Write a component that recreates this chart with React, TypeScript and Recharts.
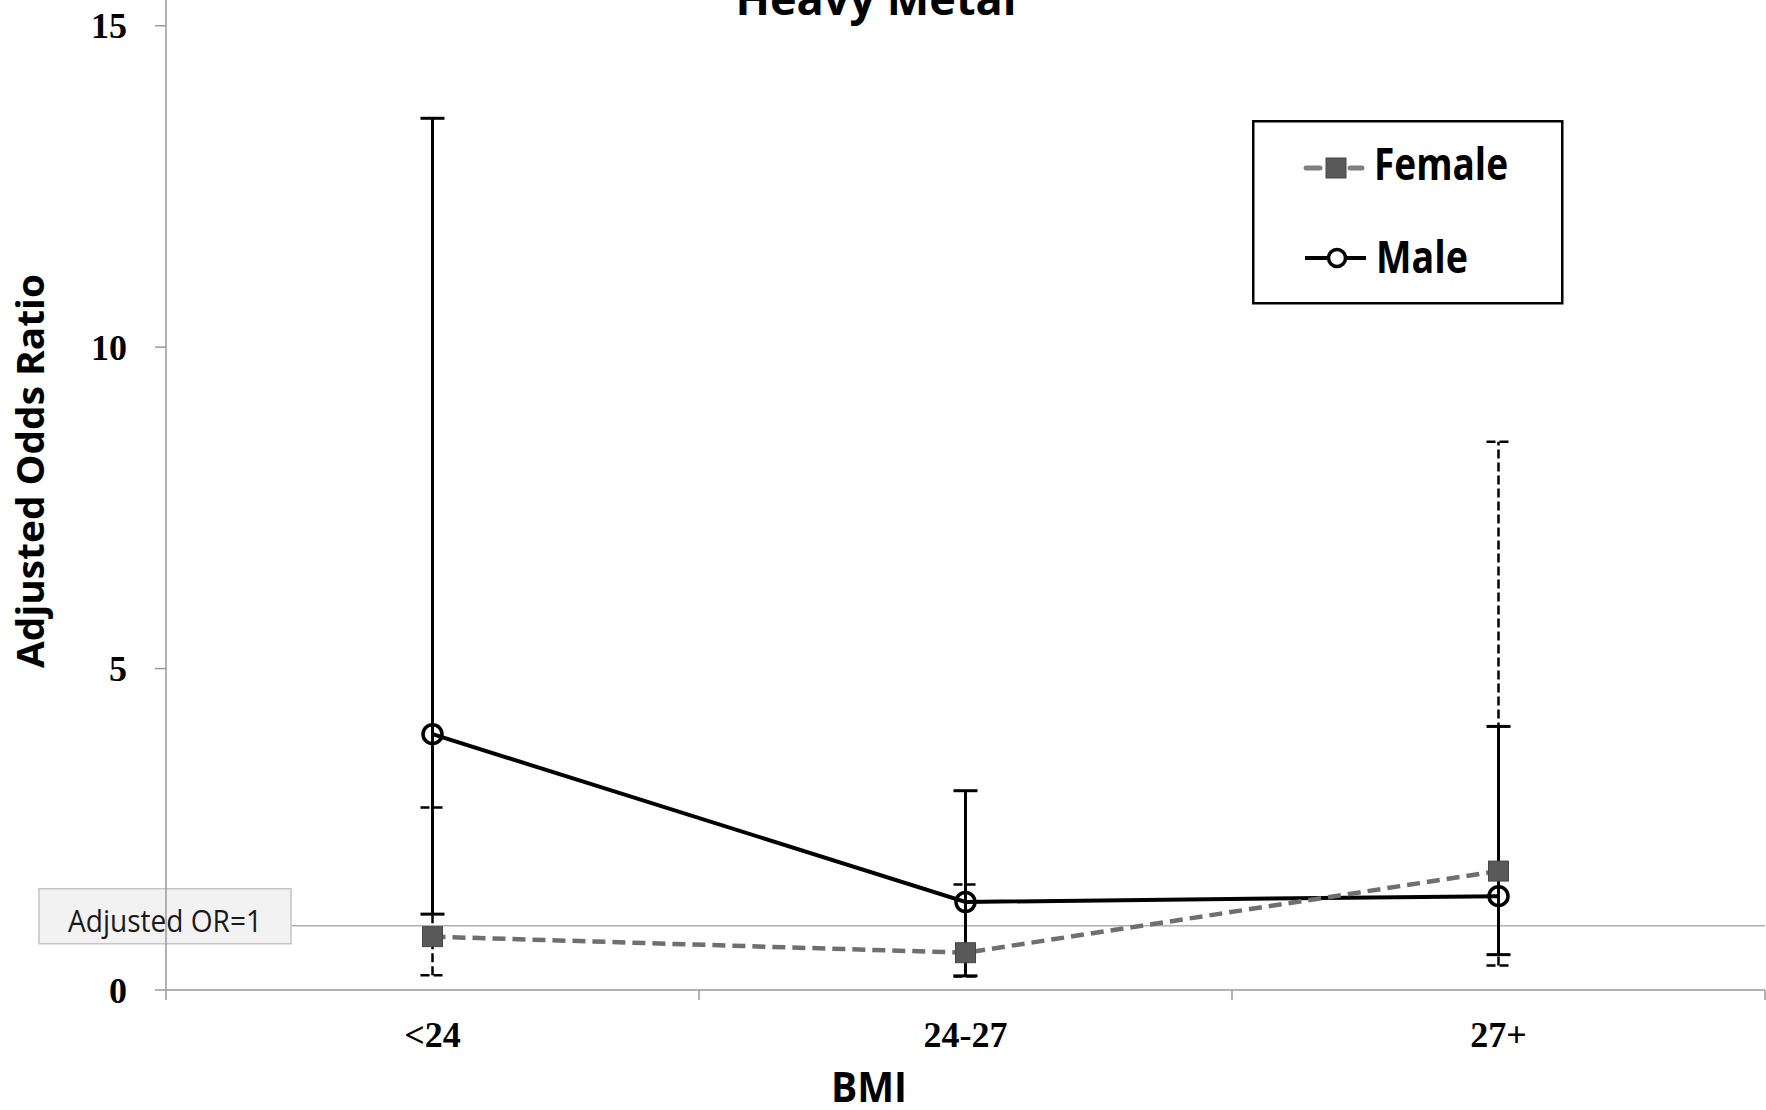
import {
  LineChart,
  Line,
  XAxis,
  YAxis,
  ErrorBar,
  ReferenceLine,
  Legend,
} from 'recharts';

const categories = ['<24', '24-27', '27+'];

const maleOR = [3.98, 1.37, 1.46];
const maleLow = [1.18, 0.22, 0.55];
const maleHigh = [13.56, 3.1, 4.1];

const femaleOR = [0.83, 0.58, 1.85];
const femaleLow = [0.23, 0.21, 0.38];
const femaleHigh = [2.84, 1.64, 8.53];

const yTicks = [0, 5, 10, 15];
// category boundaries (integers) and category centres (halves)
const xTicks = [0, 0.5, 1, 1.5, 2, 2.5, 3];

const data = categories.map((bmi, i) => ({
  bmi,
  pos: i + 0.5,
  male: maleOR[i],
  maleErr: [maleOR[i] - maleLow[i], maleHigh[i] - maleOR[i]],
  female: femaleOR[i],
  femaleErr: [femaleOR[i] - femaleLow[i], femaleHigh[i] - femaleOR[i]],
}));

const AXIS = '#9a9a9a';
const SANS = '"Open Sans", "Noto Sans", sans-serif';
const SERIF = '"Liberation Serif", "Times New Roman", serif';

const BandTick = (props: any) => {
  const { x, y, payload } = props;
  const v = payload.value;
  if (Number.isInteger(v)) {
    return <line x1={x} y1={y} x2={x} y2={y + 10} stroke={AXIS} strokeWidth={1.5} />;
  }
  return (
    <text
      x={x}
      y={y + 57}
      textAnchor="middle"
      fontFamily={SERIF}
      fontWeight={700}
      fontSize={36}
      fill="#000"
    >
      {categories[Math.floor(v)]}
    </text>
  );
};

const FemaleDot = (props: any) => {
  const { cx, cy, index } = props;
  if (cx == null || cy == null) return null;
  return (
    <rect
      key={`f-${index}`}
      x={cx - 10}
      y={cy - 10}
      width={20}
      height={20}
      fill="#595959"
      stroke="#474747"
      strokeWidth={1}
    />
  );
};

const OrLabel = (props: any) => {
  const { viewBox } = props;
  if (!viewBox) return null;
  const x = viewBox.x - 127;
  const y = viewBox.y - 37;
  return (
    <g>
      <rect x={x} y={y} width={252} height={55} fill="#f2f2f2" stroke="#c4c4c4" strokeWidth={1.5} />
      <text
        x={x + 29}
        y={y + 43}
        fontFamily={SANS}
        fontSize={31}
        fill="#1a1a1a"
        textLength={194}
        lengthAdjust="spacingAndGlyphs"
      >
        Adjusted OR=1
      </text>
    </g>
  );
};

const LegendBox = () => (
  <svg width={312} height={186} style={{ display: 'block' }}>
    <rect x={1.25} y={1.25} width={309} height={182} fill="#fff" stroke="#000" strokeWidth={2.5} />
    {/* Female */}
    <line x1={54} y1={48} x2={68} y2={48} stroke="#7f7f7f" strokeWidth={5} strokeLinecap="round" />
    <line x1={98} y1={48} x2={110} y2={48} stroke="#7f7f7f" strokeWidth={5} strokeLinecap="round" />
    <rect x={74} y={38} width={20} height={20} fill="#595959" stroke="#474747" strokeWidth={1} />
    <text
      x={122}
      y={60}
      fontFamily={SANS}
      fontWeight={700}
      fontSize={44}
      textLength={134}
      lengthAdjust="spacingAndGlyphs"
    >
      Female
    </text>
    {/* Male */}
    <line x1={53} y1={138} x2={114} y2={138} stroke="#000" strokeWidth={4} />
    <circle cx={85} cy={138} r={8.5} fill="#fff" stroke="#000" strokeWidth={3.5} />
    <text
      x={124}
      y={153}
      fontFamily={SANS}
      fontWeight={700}
      fontSize={44}
      textLength={92}
      lengthAdjust="spacingAndGlyphs"
    >
      Male
    </text>
  </svg>
);

export default function App() {
  return (
    <div style={{ position: 'absolute', left: 0, top: 0, width: 1766, height: 1110, background: '#fff' }}>
      <LineChart
        width={1766}
        height={1110}
        data={data}
        margin={{ top: 0, right: 1, bottom: 0, left: 106 }}
      >
        <XAxis
          dataKey="pos"
          type="number"
          domain={[0, 3]}
          ticks={xTicks}
          allowDataOverflow
          interval={0}
          height={120}
          axisLine={{ stroke: AXIS, strokeWidth: 1.5 }}
          tickLine={false}
          tickSize={0}
          tickMargin={0}
          tick={<BandTick />}
        />
        <YAxis
          width={60}
          domain={[0, 15.4]}
          ticks={yTicks}
          allowDataOverflow
          axisLine={{ stroke: AXIS, strokeWidth: 1.5 }}
          tickLine={{ stroke: AXIS, strokeWidth: 1.5 }}
          tickSize={11}
          tickMargin={28}
          tick={{ fontFamily: SERIF, fontWeight: 700, fontSize: 36, fill: '#000' }}
        />
        <ReferenceLine y={1} stroke="#b0b0b0" strokeWidth={1.5} label={<OrLabel />} />
        <Line
          dataKey="male"
          name="Male"
          stroke="#000"
          strokeWidth={4}
          isAnimationActive={false}
          dot={{ r: 9.5, stroke: '#000', strokeWidth: 3.5, fill: 'none' }}
        >
          <ErrorBar dataKey="maleErr" direction="y" width={12} stroke="#000" strokeWidth={3} />
        </Line>
        <Line
          dataKey="female"
          name="Female"
          stroke="#6f6f6f"
          strokeWidth={4.5}
          strokeDasharray="13 7"
          isAnimationActive={false}
          dot={FemaleDot}
        >
          <ErrorBar
            dataKey="femaleErr"
            direction="y"
            width={12}
            stroke="#000"
            strokeWidth={2.5}
            strokeDasharray="9 4"
          />
        </Line>
        <Legend
          layout="vertical"
          align="center"
          verticalAlign="middle"
          content={() => <LegendBox />}
          wrapperStyle={{ position: 'absolute', left: 1252, top: 120, width: 312, height: 186 }}
        />
      </LineChart>
      <svg
        width={1766}
        height={1110}
        style={{ position: 'absolute', left: 0, top: 0, pointerEvents: 'none' }}
      >
        <text
          x={876}
          y={15}
          textAnchor="middle"
          fontFamily={SANS}
          fontWeight={700}
          fontSize={44}
          textLength={281}
          lengthAdjust="spacingAndGlyphs"
        >
          Heavy Metal
        </text>
        <text
          x={869}
          y={1102}
          textAnchor="middle"
          fontFamily={SANS}
          fontWeight={700}
          fontSize={42}
          textLength={76}
          lengthAdjust="spacingAndGlyphs"
        >
          BMI
        </text>
        <text
          transform="translate(44 471) rotate(-90)"
          textAnchor="middle"
          fontFamily={SANS}
          fontWeight={700}
          fontSize={38}
          textLength={394}
          lengthAdjust="spacingAndGlyphs"
        >
          Adjusted Odds Ratio
        </text>
      </svg>
    </div>
  );
}
